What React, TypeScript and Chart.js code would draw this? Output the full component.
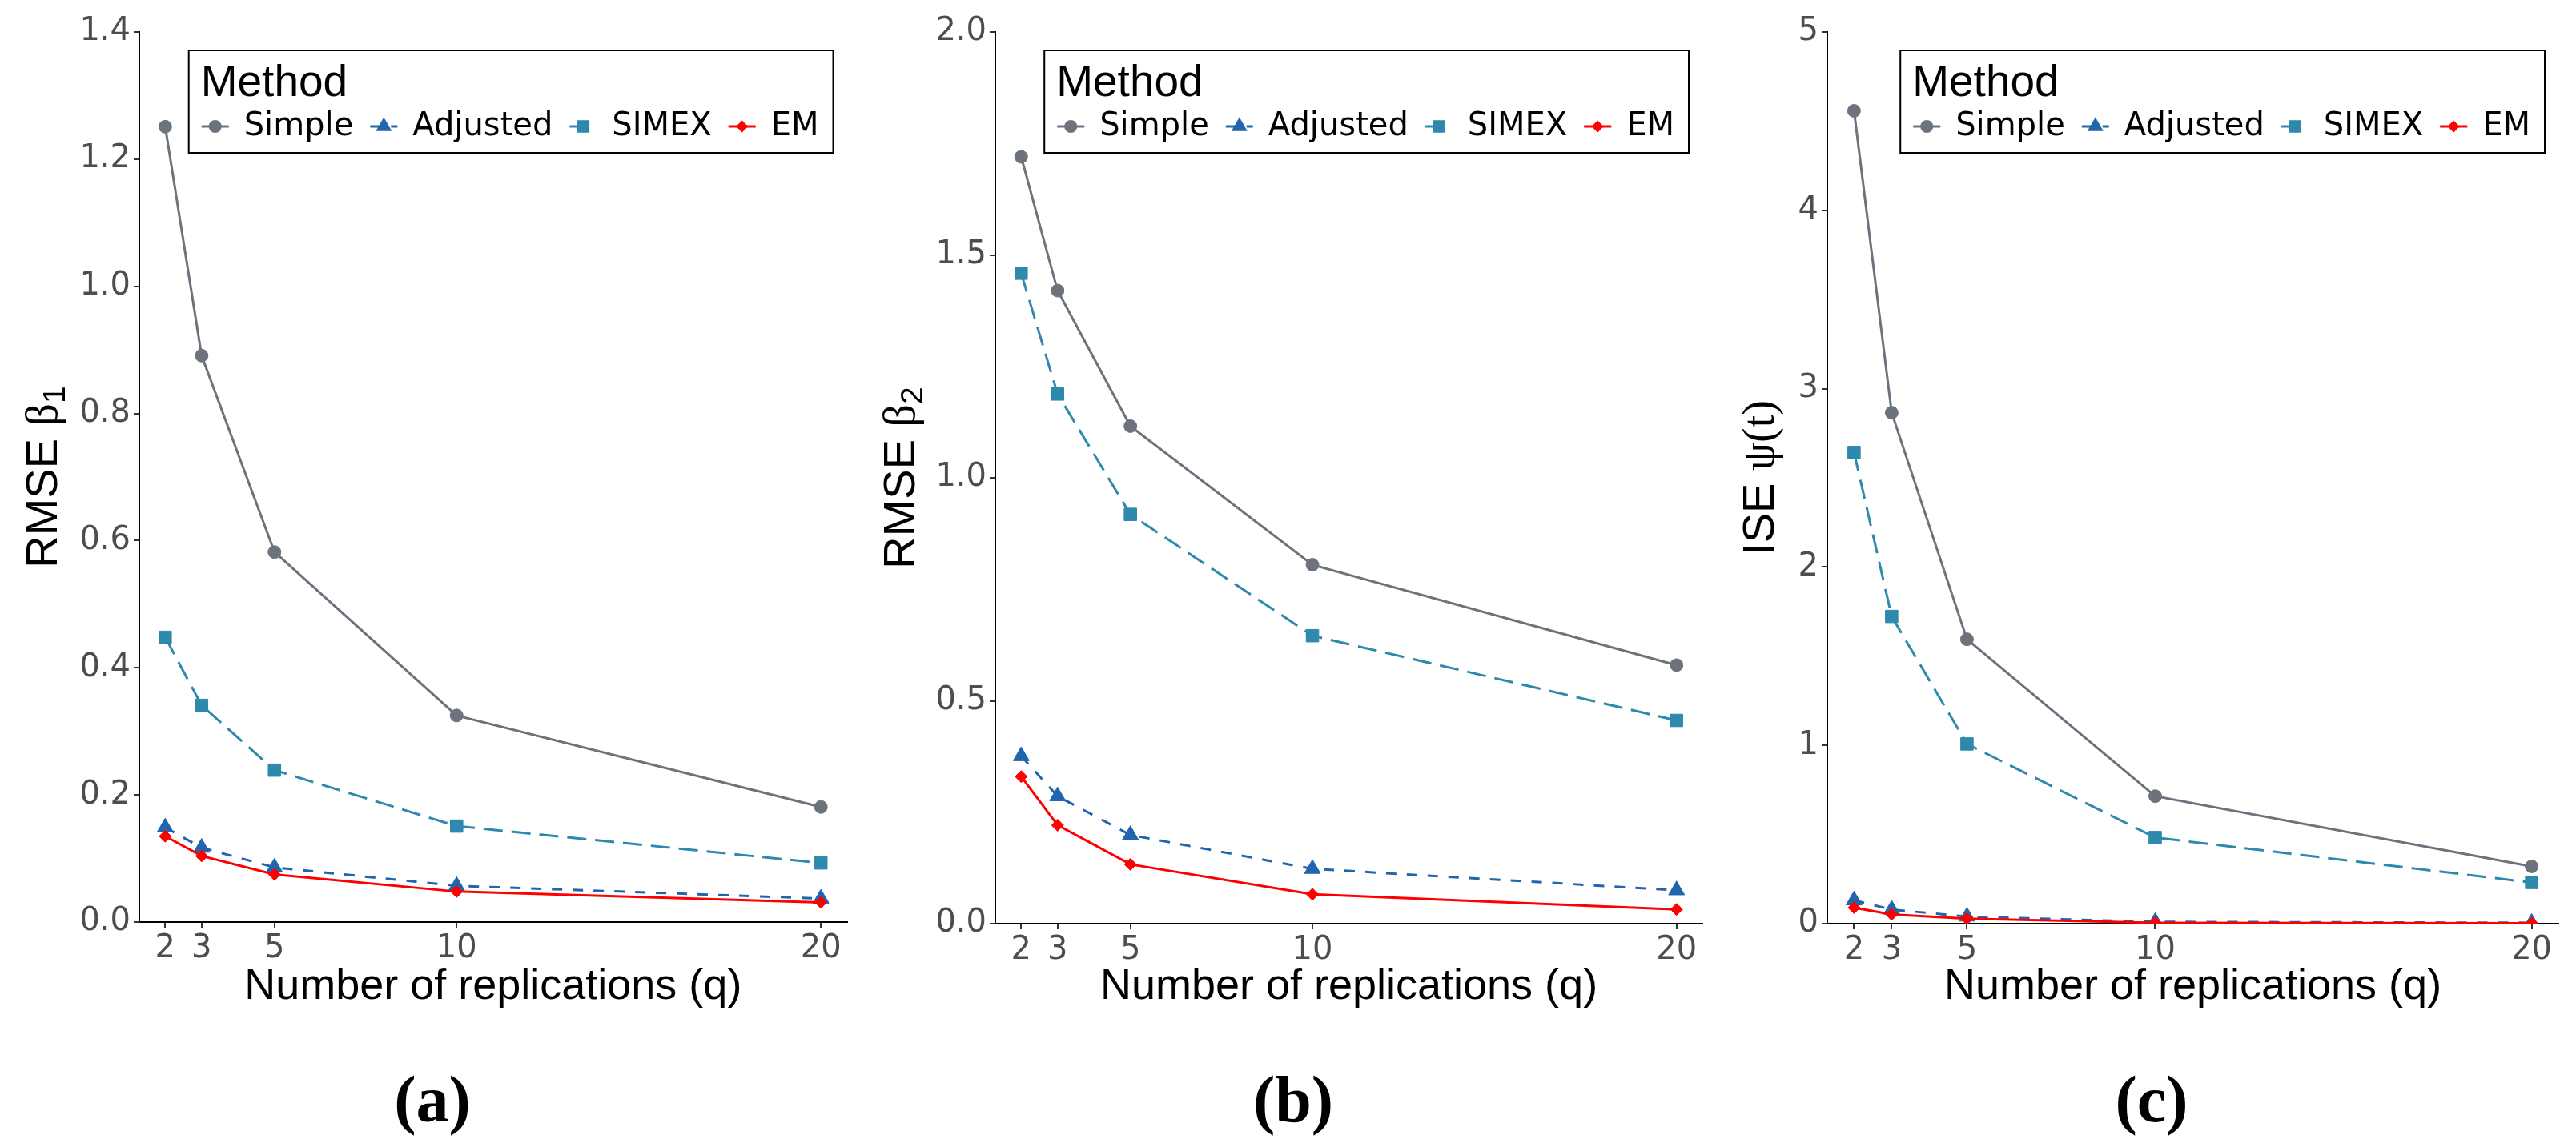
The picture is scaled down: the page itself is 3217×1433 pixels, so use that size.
import React, { useEffect, useRef } from "react";
import { Chart, registerables } from "chart.js";

Chart.register(...registerables);

// ---------------- data ----------------
const replications = [2, 3, 5, 10, 20];
const methods = ["Simple", "Adjusted", "SIMEX", "EM"];

const rmseBeta1Simple = [1.251, 0.891, 0.582, 0.325, 0.181];
const rmseBeta1Adjusted = [0.149, 0.117, 0.086, 0.057, 0.037];
const rmseBeta1Simex = [0.448, 0.341, 0.239, 0.151, 0.093];
const rmseBeta1Em = [0.135, 0.104, 0.075, 0.048, 0.031];

const rmseBeta2Simple = [1.72, 1.42, 1.116, 0.805, 0.58];
const rmseBeta2Adjusted = [0.376, 0.286, 0.199, 0.123, 0.075];
const rmseBeta2Simex = [1.459, 1.188, 0.918, 0.646, 0.456];
const rmseBeta2Em = [0.33, 0.221, 0.133, 0.066, 0.032];

const isePsiSimple = [4.558, 2.865, 1.595, 0.715, 0.321];
const isePsiAdjusted = [0.131, 0.079, 0.04, 0.01, 0.005];
const isePsiSimex = [2.642, 1.723, 1.008, 0.483, 0.231];
const isePsiEm = [0.09, 0.052, 0.028, 0.005, 0.002];

const yTicksA = [0, 0.2, 0.4, 0.6, 0.8, 1.0, 1.2, 1.4];
const yTicksB = [0, 0.5, 1.0, 1.5, 2.0];
const yTicksC = [0, 1, 2, 3, 4, 5];

const xTitle = "Number of replications (q)";
const legendTitle = "Method";

// ---------------- styles ----------------
const SANS = "'Liberation Sans', Arial, sans-serif";
const TICKFONT = "'DejaVu Sans', sans-serif";
const SERIF = "'Liberation Serif', 'Times New Roman', serif";

const seriesStyles = [
  { color: "#6C737D", dash: [] as number[], marker: "circle", radius: 8 },
  { color: "#2166AC", dash: [13, 13], marker: "triangle", radius: 11.5 },
  { color: "#2E89AD", dash: [24, 11], marker: "rect", radius: 11 },
  { color: "#FF0000", dash: [] as number[], marker: "rectRot", radius: 7.5 },
];

const H = 1300;

type TitlePart = { text: string; font: string; dy?: number };

type Panel = {
  left: number;
  width: number;
  plotLeft: number;
  plotRight: number;
  plotTop: number;
  plotBottom: number;
  yMax: number;
  yTicks: number[];
  decimals: number;
  series: number[][];
  yTitle: TitlePart[];
  yTitleX: number;
  label: string;
  labelX: number;
};

const panels: Panel[] = [
  {
    left: 0,
    width: 1070,
    plotLeft: 174,
    plotRight: 1058,
    plotTop: 40,
    plotBottom: 1152,
    yMax: 1.4,
    yTicks: yTicksA,
    decimals: 1,
    series: [rmseBeta1Simple, rmseBeta1Adjusted, rmseBeta1Simex, rmseBeta1Em],
    yTitle: [
      { text: "RMSE ", font: `56px ${SANS}` },
      { text: "β", font: `56px ${SERIF}` },
      { text: "1", font: `39px ${SANS}`, dy: 10 },
    ],
    yTitleX: 71,
    label: "(a)",
    labelX: 540,
  },
  {
    left: 1070,
    width: 1070,
    plotLeft: 173,
    plotRight: 1056,
    plotTop: 40,
    plotBottom: 1154,
    yMax: 2.0,
    yTicks: yTicksB,
    decimals: 1,
    series: [rmseBeta2Simple, rmseBeta2Adjusted, rmseBeta2Simex, rmseBeta2Em],
    yTitle: [
      { text: "RMSE ", font: `56px ${SANS}` },
      { text: "β", font: `56px ${SERIF}` },
      { text: "2", font: `39px ${SANS}`, dy: 10 },
    ],
    yTitleX: 72,
    label: "(b)",
    labelX: 1615,
  },
  {
    left: 2140,
    width: 1077,
    plotLeft: 142,
    plotRight: 1055,
    plotTop: 40,
    plotBottom: 1154,
    yMax: 5,
    yTicks: yTicksC,
    decimals: 0,
    series: [isePsiSimple, isePsiAdjusted, isePsiSimex, isePsiEm],
    yTitle: [
      { text: "ISE ", font: `56px ${SANS}` },
      { text: "ψ(t)", font: `56px ${SERIF}` },
    ],
    yTitleX: 75,
    label: "(c)",
    labelX: 2687,
  },
];

function drawMarker(
  ctx: CanvasRenderingContext2D,
  shape: string,
  x: number,
  y: number,
  r: number,
  color: string
) {
  ctx.save();
  ctx.fillStyle = color;
  ctx.beginPath();
  if (shape === "circle") {
    ctx.arc(x, y, r, 0, Math.PI * 2);
  } else if (shape === "triangle") {
    const a = (2 * Math.PI) / 3;
    ctx.moveTo(x, y - r);
    ctx.lineTo(x + Math.sin(a) * r, y - Math.cos(a) * r);
    ctx.lineTo(x + Math.sin(2 * a) * r, y - Math.cos(2 * a) * r);
    ctx.closePath();
  } else if (shape === "rect") {
    const s = Math.SQRT1_2 * r;
    ctx.rect(x - s, y - s, 2 * s, 2 * s);
  } else {
    ctx.moveTo(x - r, y);
    ctx.lineTo(x, y - r);
    ctx.lineTo(x + r, y);
    ctx.lineTo(x, y + r);
    ctx.closePath();
  }
  ctx.fill();
  ctx.restore();
}

function PanelChart({ p }: { p: Panel }) {
  const ref = useRef<HTMLCanvasElement | null>(null);

  useEffect(() => {
    const canvas = ref.current;
    if (!canvas) return;

    const overlay = {
      id: "overlay" + p.label,
      afterDraw(chart: any) {
        const ctx: CanvasRenderingContext2D = chart.ctx;
        const ca = chart.chartArea;

        // ---- y title (rotated, mixed fonts) ----
        ctx.save();
        ctx.fillStyle = "#000";
        ctx.textBaseline = "alphabetic";
        ctx.textAlign = "left";
        let total = 0;
        const ws = p.yTitle.map((part) => {
          ctx.font = part.font;
          const w = ctx.measureText(part.text).width;
          total += w;
          return w;
        });
        ctx.translate(p.yTitleX, (ca.top + ca.bottom) / 2);
        ctx.rotate(-Math.PI / 2);
        let tx = -total / 2;
        p.yTitle.forEach((part, i) => {
          ctx.font = part.font;
          ctx.fillText(part.text, tx, part.dy || 0);
          tx += ws[i];
        });
        ctx.restore();

        // ---- legend ----
        ctx.save();
        const padL = 16,
          keyW = 34,
          keyGap = 19,
          itemGap = 21,
          padR = 18;
        ctx.font = `40px ${TICKFONT}`;
        const tw = methods.map((m) => ctx.measureText(m).width);
        const boxW =
          padL +
          tw.reduce((a, b) => a + b, 0) +
          methods.length * (keyW + keyGap) +
          (methods.length - 1) * itemGap +
          padR;
        const boxH = 128;
        const right = ca.right - 17;
        const left = right - boxW;
        const top = ca.top + 23;
        ctx.fillStyle = "#fff";
        ctx.fillRect(left, top, boxW, boxH);
        ctx.strokeStyle = "#000";
        ctx.lineWidth = 2;
        ctx.strokeRect(left, top, boxW, boxH);

        ctx.fillStyle = "#000";
        ctx.font = `55px ${SANS}`;
        ctx.textBaseline = "alphabetic";
        ctx.textAlign = "left";
        ctx.fillText(legendTitle, left + 15, top + 57);

        let x = left + padL;
        const cy = top + 95;
        methods.forEach((m, i) => {
          const st = seriesStyles[i];
          ctx.strokeStyle = st.color;
          ctx.lineWidth = 3;
          ctx.setLineDash(st.dash);
          ctx.beginPath();
          ctx.moveTo(x, cy);
          ctx.lineTo(x + keyW, cy);
          ctx.stroke();
          ctx.setLineDash([]);
          drawMarker(ctx, st.marker, x + keyW / 2, cy, st.radius, st.color);
          x += keyW + keyGap;
          ctx.font = `40px ${TICKFONT}`;
          ctx.textBaseline = "middle";
          ctx.fillStyle = "#000";
          ctx.fillText(m, x, cy + 1);
          x += tw[i] + itemGap;
        });
        ctx.restore();
      },
    };

    const gridOpts = {
      display: true,
      drawOnChartArea: false,
      drawTicks: true,
      tickLength: 7,
      color: "#333333",
      lineWidth: 2,
    };
    const borderOpts = { display: true, color: "#000000", width: 2 };

    const datasets = methods.map((m, i) => {
      const st = seriesStyles[i];
      return {
        label: m,
        data: replications.map((q, j) => ({ x: q, y: p.series[i][j] })),
        borderColor: st.color,
        backgroundColor: st.color,
        borderWidth: 3,
        borderDash: st.dash,
        pointStyle: st.marker,
        pointRadius: st.radius,
        pointBackgroundColor: st.color,
        pointBorderColor: st.color,
        pointBorderWidth: 1,
        tension: 0,
        fill: false,
        order: methods.length - i,
      };
    });

    const chart = new Chart(canvas, {
      type: "line",
      data: { datasets } as any,
      plugins: [overlay],
      options: {
        animation: false,
        responsive: false,
        devicePixelRatio: 1,
        layout: {
          padding: {
            left: 0,
            top: p.plotTop,
            right: p.width - p.plotRight,
            bottom: 0,
          },
        },
        plugins: {
          legend: { display: false },
          tooltip: { enabled: false },
          title: { display: false },
        },
        scales: {
          x: {
            type: "linear",
            min: 1.29,
            max: 20.71,
            afterBuildTicks: (s: any) => {
              s.ticks = replications.map((v) => ({ value: v }));
            },
            afterFit: (s: any) => {
              s.height = H - p.plotBottom;
            },
            grid: gridOpts,
            border: borderOpts,
            ticks: {
              font: { family: TICKFONT, size: 40 },
              color: "#4D4D4D",
              padding: 3,
              maxRotation: 0,
              autoSkip: false,
              callback: (v: any) => String(v),
            },
            title: {
              display: true,
              text: xTitle,
              font: { family: SANS, size: 54 },
              color: "#000000",
              padding: { top: 0, bottom: 34 },
            },
          },
          y: {
            type: "linear",
            min: 0,
            max: p.yMax,
            afterBuildTicks: (s: any) => {
              s.ticks = p.yTicks.map((v) => ({ value: v }));
            },
            afterFit: (s: any) => {
              s.width = p.plotLeft;
            },
            grid: gridOpts,
            border: borderOpts,
            ticks: {
              font: { family: TICKFONT, size: 40 },
              color: "#4D4D4D",
              padding: 4,
              autoSkip: false,
              callback: (v: any) => Number(v).toFixed(p.decimals),
            },
          },
        },
      } as any,
    });

    return () => chart.destroy();
  }, [p]);

  return (
    <canvas
      ref={ref}
      width={p.width}
      height={H}
      style={{
        position: "absolute",
        left: p.left,
        top: 0,
        width: p.width,
        height: H,
      }}
    />
  );
}

export default function App() {
  useEffect(() => {
    document.body.style.margin = "0";
    document.body.style.overflow = "hidden";
  }, []);

  return (
    <div
      style={{
        position: "absolute",
        left: 0,
        top: 0,
        width: 3217,
        height: 1433,
        background: "#ffffff",
        overflow: "hidden",
      }}
    >
      {panels.map((p) => (
        <PanelChart key={p.label} p={p} />
      ))}
      {panels.map((p) => (
        <div
          key={"lbl" + p.label}
          style={{
            position: "absolute",
            left: p.labelX,
            top: 1333,
            transform: "translateX(-50%)",
            fontFamily: SERIF,
            fontWeight: "bold",
            fontSize: 82,
            lineHeight: "82px",
            color: "#000",
            whiteSpace: "nowrap",
          }}
        >
          {p.label}
        </div>
      ))}
    </div>
  );
}
